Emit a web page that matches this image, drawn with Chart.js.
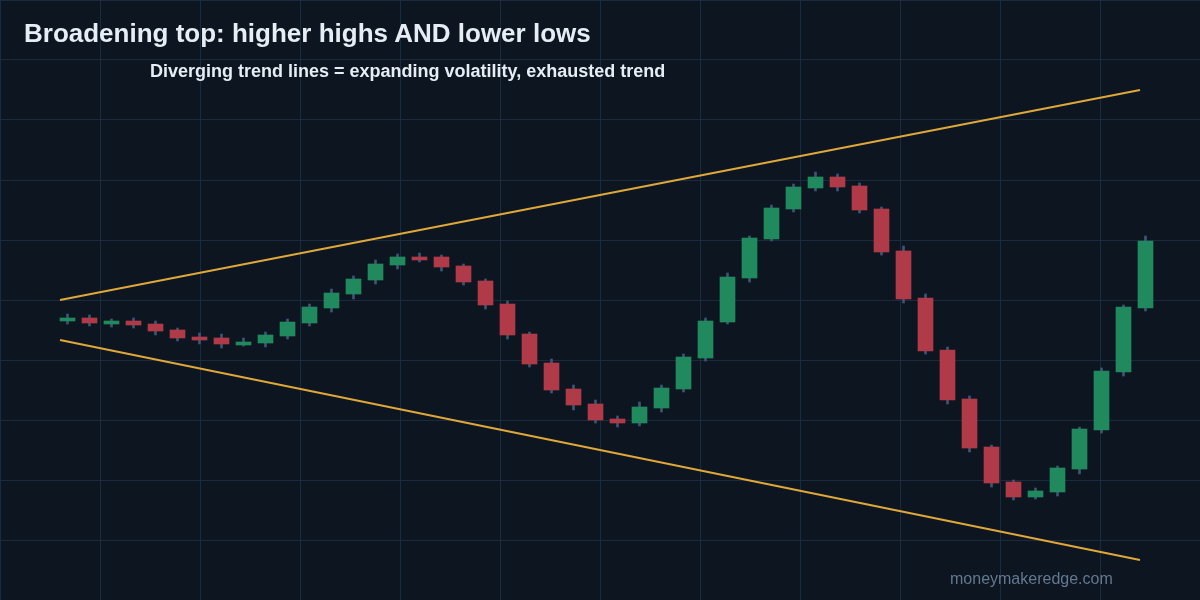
<!DOCTYPE html>
<html>
<head>
<meta charset="utf-8">
<script src="https://cdn.jsdelivr.net/npm/chart.js@4/dist/chart.umd.min.js"></script>
<style>
  html, body { margin: 0; padding: 0; background: #0c1520; }
  .wrap { position: relative; width: 1200px; height: 600px; }
  .txt { position: absolute; white-space: nowrap; font-family: "Liberation Sans", Arial, sans-serif; }
  .title { left: 24px; top: 20px; font-size: 26px; line-height: 26px; font-weight: bold; color: #e6edf5; }
  .sub { left: 150px; top: 62px; font-size: 18px; line-height: 18px; font-weight: bold; color: #e6edf5; }
  .mark { left: 950px; top: 571px; font-size: 16px; line-height: 16px; color: #64788f; }
</style>
</head>
<body>
<div class="wrap">
  <canvas id="c" width="1200" height="600"></canvas>
  <div class="txt title">Broadening top: higher highs AND lower lows</div>
  <div class="txt sub">Diverging trend lines = expanding volatility, exhausted trend</div>
  <div class="txt mark">moneymakeredge.com</div>
</div>
<script>
// candles, one entry per session
const opens  = [96.5, 97.0, 96.0, 96.5, 96.0, 95.0, 93.83, 93.67, 92.5, 92.83,
                94.0, 96.17, 98.67, 101.0, 103.33, 105.83, 107.17, 107.17, 105.67, 103.17,
                99.33, 94.33, 89.5, 85.17, 82.67, 80.17, 79.5, 82.0, 85.17, 90.33,
                96.33, 103.67, 110.17, 115.17, 118.67, 120.5, 119.0, 115.17, 108.17, 100.33,
                91.67, 83.5, 75.5, 69.67, 67.17, 68.0, 71.83, 78.33, 88.0, 98.67];
const closes = [97.0, 96.17, 96.5, 95.83, 94.83, 93.67, 93.33, 92.67, 93.0, 94.17,
                96.33, 98.83, 101.17, 103.5, 106.0, 107.17, 106.67, 105.5, 103.0, 99.17,
                94.17, 89.33, 85.0, 82.5, 80.0, 79.5, 82.17, 85.33, 90.5, 96.5,
                103.83, 110.33, 115.33, 118.83, 120.5, 118.83, 115.0, 108.0, 100.17, 91.5,
                83.33, 75.33, 69.5, 67.17, 68.17, 72.0, 78.5, 88.17, 98.83, 109.83];
const highs  = [97.67, 97.5, 96.83, 97.0, 96.5, 95.33, 94.5, 94.33, 93.67, 94.67,
                96.83, 99.33, 101.83, 104.0, 106.67, 107.67, 107.83, 107.5, 106.0, 103.5,
                99.83, 94.67, 90.17, 85.83, 83.33, 80.67, 83.0, 85.83, 91.0, 97.0,
                104.5, 110.67, 115.83, 119.33, 121.33, 121.0, 119.5, 115.5, 109.0, 101.0,
                92.17, 84.0, 75.83, 70.0, 68.67, 72.33, 78.83, 88.67, 99.17, 110.67];
const lows   = [96.0, 95.67, 95.5, 95.33, 94.17, 93.17, 92.67, 92.0, 92.33, 92.17,
                93.5, 95.67, 98.0, 100.17, 102.67, 105.17, 106.33, 104.83, 102.5, 98.5,
                93.5, 88.83, 84.5, 81.67, 79.5, 78.83, 79.0, 81.33, 84.67, 89.83,
                96.0, 103.0, 109.83, 114.67, 118.17, 118.17, 114.5, 107.5, 99.5, 91.0,
                82.67, 74.67, 68.83, 66.67, 66.83, 67.33, 71.0, 77.83, 87.33, 98.17];

// trend lines: [start, end] in session index / price
const trendX     = [-0.34, 48.75];
const upperTrend = [100, 135];
const lowerTrend = [93.33, 56.67];

const UP = '#208a5e', DOWN = '#b13a48', WICK = '#3d5573', TREND = '#e0a83a', GRID = '#1a2a3f';

const bodies = opens.map((o, i) => ({ x: i, y: [o, closes[i]] }));
const wicks = lows.map((l, i) => ({ x: i, y: [l, highs[i]] }));
const colors = opens.map((o, i) => closes[i] >= o ? UP : DOWN);

new Chart(document.getElementById('c'), {
  type: 'bar',
  data: {
    datasets: [
      { type: 'line', data: trendX.map((x, i) => ({ x, y: upperTrend[i] })), borderColor: TREND,
        borderWidth: 2, pointRadius: 0, order: 1 },
      { type: 'line', data: trendX.map((x, i) => ({ x, y: lowerTrend[i] })), borderColor: TREND,
        borderWidth: 2, pointRadius: 0, order: 1 },
      { data: bodies, backgroundColor: colors, barThickness: 15, grouped: false, order: 2 },
      { data: wicks, backgroundColor: WICK, barThickness: 2, grouped: false, order: 3 }
    ]
  },
  options: {
    responsive: false,
    animation: false,
    events: [],
    layout: { padding: 0 },
    plugins: { legend: { display: false }, tooltip: { enabled: false } },
    scales: {
      x: { type: 'linear', offset: false, min: -67.5 / 22, max: (1200 - 67.5) / 22, display: false },
      gx: { type: 'linear', axis: 'x', position: 'bottom', offset: false, min: 0, max: 12,
            ticks: { display: false, stepSize: 1 }, border: { display: false },
            grid: { color: GRID, drawTicks: false, lineWidth: 1, offset: false } },
      y: { min: 50, max: 150, ticks: { display: false, stepSize: 10 }, border: { display: false },
           grid: { color: GRID, drawTicks: false, lineWidth: 1 } }
    }
  }
});
</script>
</body>
</html>
